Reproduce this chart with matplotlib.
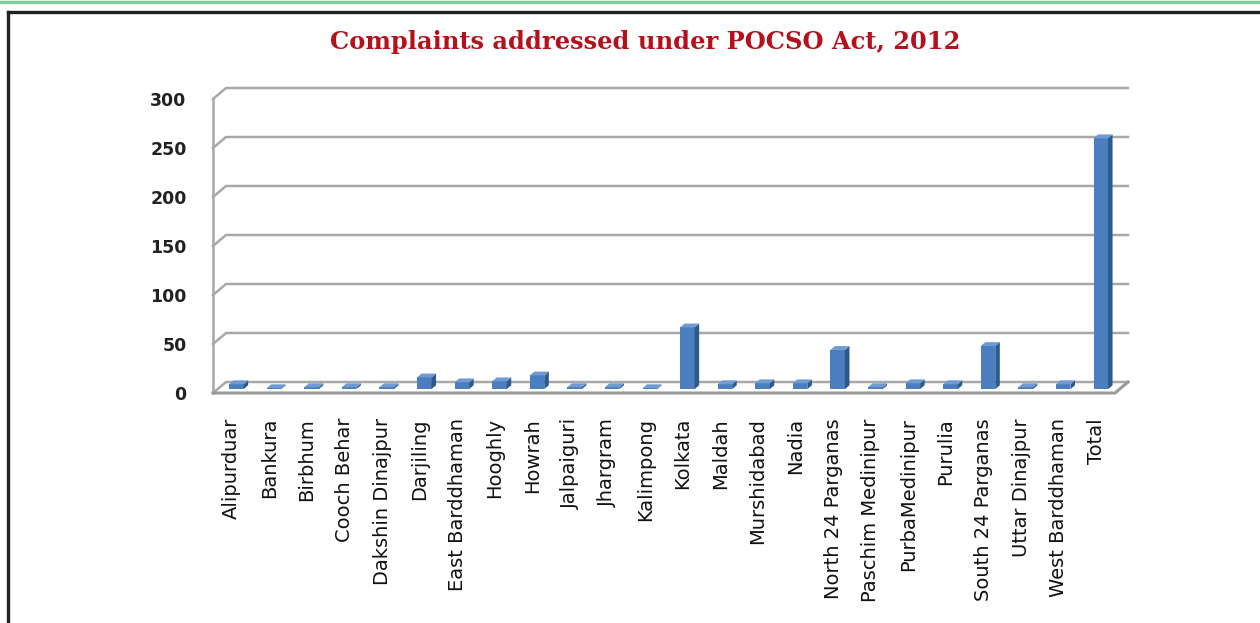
import numpy as np
import matplotlib

matplotlib.use("Agg")

import matplotlib.pyplot as plt
from matplotlib.lines import Line2D
from matplotlib.patches import Polygon

# Data
districts = [
    "Alipurduar", "Bankura", "Birbhum", "Cooch Behar", "Dakshin Dinajpur",
    "Darjiling", "East Barddhaman", "Hooghly", "Howrah", "Jalpaiguri",
    "Jhargram", "Kalimpong", "Kolkata", "Maldah", "Murshidabad", "Nadia",
    "North 24 Parganas", "Paschim Medinipur", "PurbaMedinipur", "Purulia",
    "South 24 Parganas", "Uttar Dinajpur", "West Barddhaman", "Total",
]
complaints = [5, 1, 2, 2, 2, 12, 7, 8, 14, 2, 2, 1, 63, 5, 6, 6,
              40, 2, 6, 5, 44, 2, 5, 256]
y_ticks = [0, 50, 100, 150, 200, 250, 300]

title = "Complaints addressed under POCSO Act, 2012"

W, H = 1260, 623
fig = plt.figure(figsize=(W / 100, H / 100), dpi=100)

# plot area = front plane of the pseudo-3D box
left_px, right_px = 213, 1115
bottom_px, top_px = 393, 99
ax = fig.add_axes([left_px / W, 1 - bottom_px / H,
                   (right_px - left_px) / W, (bottom_px - top_px) / H])
n = len(districts)
ax.set_xlim(-0.5, n - 0.5)
ax.set_ylim(0, 300)
for s in ax.spines.values():
    s.set_visible(False)

# depth offset (back wall vs front) in data units
px_x = (right_px - left_px) / n
px_y = (bottom_px - top_px) / 300
DX = 13 / px_x
DY = 11 / px_y

grid_col = "#a8a8a8"
x0, x1 = -0.5, n - 0.5
for v in y_ticks:
    ax.add_line(Line2D([x0, x0 + DX, x1 + DX], [v, v + DY, v + DY],
                       color=grid_col, lw=1.8, zorder=1, clip_on=False))
# left wall edge and floor
ax.add_line(Line2D([x0, x0], [0, 300], color=grid_col, lw=1.8, zorder=1, clip_on=False))
ax.add_line(Line2D([x0, x1, x1 + DX], [0, 0, DY], color="#999999", lw=2.2,
                   zorder=1, clip_on=False))

# bars
bw = 14.5 / px_x
f_front, f_back = 0.35, 0.7
front_col, side_col, top_col = "#4a7ebf", "#2d5a8e", "#6f9ad2"
for i, val in enumerate(complaints):
    xl = i - bw / 2 + f_front * DX
    yb = f_front * DY
    xr = xl + bw
    yt = yb + val
    ddx = (f_back - f_front) * DX
    ddy = (f_back - f_front) * DY
    ax.add_patch(Polygon([[xl, yb], [xr, yb], [xr, yt], [xl, yt]],
                         closed=True, fc=front_col, ec="none", zorder=3, clip_on=False))
    ax.add_patch(Polygon([[xr, yb], [xr + ddx, yb + ddy], [xr + ddx, yt + ddy], [xr, yt]],
                         closed=True, fc=side_col, ec="none", zorder=3, clip_on=False))
    ax.add_patch(Polygon([[xl, yt], [xr, yt], [xr + ddx, yt + ddy], [xl + ddx, yt + ddy]],
                         closed=True, fc=top_col, ec="none", zorder=3, clip_on=False))

ax.set_yticks(y_ticks)
ax.set_yticklabels([str(v) for v in y_ticks], fontsize=12.5, fontweight="bold",
                   color="#222222", family="DejaVu Sans")
ax.tick_params(axis="y", length=0, pad=19)
ax.set_xticks(np.arange(n))
ax.set_xticklabels(districts, rotation=90, fontsize=14, color="#111111",
                   family="DejaVu Sans")
ax.tick_params(axis="x", length=0, pad=18)

fig.text(645 / W, 1 - 42 / H, title, ha="center", va="center",
         family="DejaVu Serif", fontweight="bold", fontsize=17.4, color="#b3121c")

# page decoration: green rule and black frame
fig.add_artist(Line2D([0, 1], [1 - 1.5 / H, 1 - 1.5 / H], color="#82cb9c", lw=2.5))
fig.add_artist(Line2D([7.5 / W, 1], [1 - 12 / H, 1 - 12 / H], color="#222222", lw=2.4))
fig.add_artist(Line2D([7.5 / W, 7.5 / W], [0, 1 - 12 / H], color="#222222", lw=2.4))

fig.savefig("out.png", dpi=100)
